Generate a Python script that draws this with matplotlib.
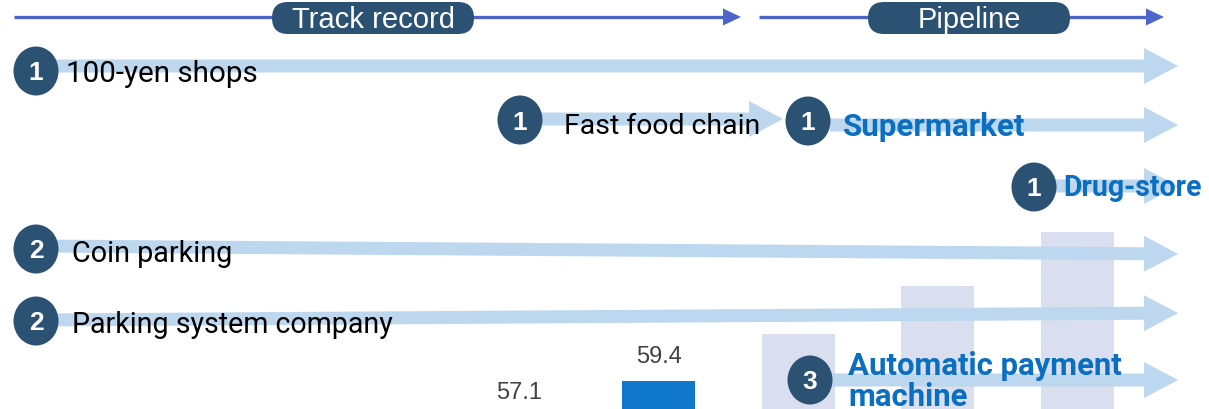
import matplotlib
matplotlib.use('Agg')
import matplotlib.pyplot as plt
from matplotlib.patches import Polygon, FancyBboxPatch, Ellipse
import numpy as np

# ---------------- data ----------------
bar_positions = [0, 1, 2, 3, 4]
bar_values = [57.1, 59.4, 62.4, 65.5, 68.9]
bar_labels = ['57.1', '59.4', '', '', '']
bar_is_plan = [False, False, True, True, True]

phase_labels = ['Track record', 'Pipeline']

row_names = ['100-yen shops', 'Fast food chain', 'Supermarket', 'Drug-store',
             'Coin parking', 'Parking system company', 'Automatic payment\nmachine']
row_badges = ['1', '1', '1', '1', '2', '2', '3']
row_is_pipeline = [False, False, True, True, False, False, True]

# ---------------- layout (pixels) ----------------
W, H = 1209, 410
badge_xy = [(36, 72), (520, 121), (808, 122), (1034, 188), (36, 250), (36, 322), (810, 381)]
text_xy = [(66, 74), (564, 126), (843, 127), (1063, 188), (72, 254), (72, 325), (848, 366)]
text_w = [192, 196, 183, 139, 160, 321, 276]
arrows = [((40, 67), (1178, 67)),
          ((540, 120), (783, 120)),
          ((830, 126), (1178, 126)),
          ((1055, 187), (1178, 187)),
          ((40, 247), (1178, 255)),
          ((40, 321), (1178, 314)),
          ((830, 381), (1178, 381))]

C_NAVY = '#2c5273'
C_BLUE_TXT = '#0b6fc1'
C_ARROW = '#bdd7ee'
C_HEAD = '#4d64c8'
C_BAR = '#0f77cc'
C_PLAN = '#dadff0'
BODY_FONT = ['Roboto', 'DejaVu Sans']

fig = plt.figure(figsize=(W / 100, H / 100), dpi=100)

# ---------------- bar chart (background) ----------------
px_per_unit = 15.65
bar_x0, bar_dx = 519.5, 139.4
bx = fig.add_axes([0, 0, 1, 1], zorder=0)
ymin = 59.4 - 28 / px_per_unit
bx.set_ylim(ymin, ymin + H / px_per_unit)
bx.set_xlim(-bar_x0 / bar_dx, (W - bar_x0) / bar_dx)
bx.axis('off')
colors = [C_PLAN if p else C_BAR for p in bar_is_plan]
bx.bar(bar_positions, bar_values, width=73 / bar_dx, color=colors, zorder=1)
for x, v, lab in zip(bar_positions, bar_values, bar_labels):
    if lab:
        bx.text(x, v + 25 / px_per_unit, lab, ha='center', va='center',
                fontsize=17, color='#404040', family='Liberation Sans', zorder=3)

# ---------------- diagram overlay ----------------
ax = fig.add_axes([0, 0, 1, 1], zorder=1)
ax.set_xlim(0, W)
ax.set_ylim(H, 0)
ax.axis('off')
ax.patch.set_alpha(0)


def fat_arrow(p0, p1, shaft=13, head_w=36, head_l=34, color=C_ARROW):
    p0 = np.array(p0, float)
    p1 = np.array(p1, float)
    d = p1 - p0
    d /= np.linalg.norm(d)
    n = np.array([-d[1], d[0]])
    b = p1 - d * head_l
    pts = [p0 + n * shaft / 2, b + n * shaft / 2, b + n * head_w / 2, p1,
           b - n * head_w / 2, b - n * shaft / 2, p0 - n * shaft / 2]
    ax.add_patch(Polygon(pts, closed=True, facecolor=color, edgecolor='none', zorder=2))


for p0, p1 in arrows:
    fat_arrow(p0, p1)

# header lines
for x0, x1 in [(14, 723), (759, 1146)]:
    ax.plot([x0, x1], [18, 18], color=C_HEAD, lw=2.4, solid_capstyle='butt', zorder=3)
    ax.add_patch(Polygon([(x1, 9.5), (x1 + 18, 18), (x1, 26.5)], closed=True,
                         facecolor=C_HEAD, edgecolor='none', zorder=3))

renderer = fig.canvas.get_renderer()


def fit(t, width):
    bb = t.get_window_extent(renderer)
    t.set_fontsize(t.get_fontsize() * width / bb.width)


for lab, (x0, x1), tw in zip(phase_labels, [(272, 474), (868, 1070)], [163, 103]):
    ax.add_patch(FancyBboxPatch((x0, 3), x1 - x0, 32,
                                boxstyle='round,pad=0,rounding_size=16',
                                facecolor=C_NAVY, edgecolor='none', zorder=4))
    t = ax.text((x0 + x1) / 2, 19.5, lab, ha='center', va='center', color='white',
                fontsize=18, family='Liberation Sans', zorder=5)
    fit(t, tw)

# badges and labels
for name, badge, pipe, (bxp, byp), (tx, ty), tw in zip(
        row_names, row_badges, row_is_pipeline, badge_xy, text_xy, text_w):
    ax.add_patch(Ellipse((bxp, byp), 45, 49, facecolor=C_NAVY, edgecolor='none', zorder=4))
    ax.text(bxp, byp + 1.5, badge, ha='center', va='center', color='white',
            fontsize=19, fontweight='bold', family='Liberation Sans', zorder=5)
    lines = name.split('\n')
    ts = []
    for i, ln in enumerate(lines):
        t = ax.text(tx, ty + i * 31, ln, ha='left', va='center',
                    color=C_BLUE_TXT if pipe else 'black',
                    fontweight='bold' if pipe else 'normal',
                    fontsize=16, family=BODY_FONT, zorder=5)
        ts.append(t)
    widths = [t.get_window_extent(renderer).width for t in ts]
    k = tw / max(widths)
    for t in ts:
        t.set_fontsize(t.get_fontsize() * k)

fig.savefig('out.png', dpi=100)
